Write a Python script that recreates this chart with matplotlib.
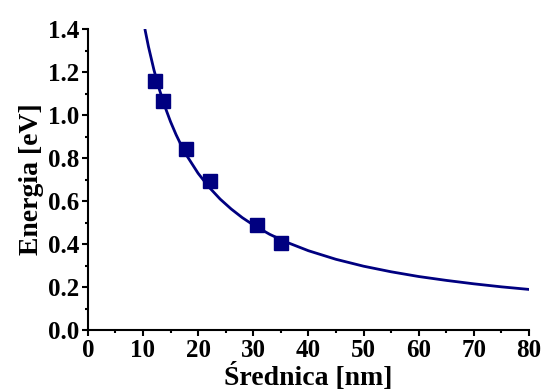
import matplotlib
matplotlib.use("Agg")
import matplotlib.pyplot as plt
from matplotlib.ticker import MultipleLocator, FormatStrFormatter

# measured points
diameter = [12.2, 13.7, 17.75, 22.2, 30.7, 35.1]
energy = [1.158, 1.066, 0.843, 0.692, 0.488, 0.406]

# fitted curve
fit_d = [10.4, 11, 12, 13, 14, 15, 16, 17, 18, 20, 22, 24, 26, 28, 30,
         33, 36, 40, 45, 50, 55, 60, 65, 70, 75, 80]
fit_e = [1.394, 1.318, 1.209, 1.117, 1.038, 0.969, 0.909, 0.856, 0.809,
         0.729, 0.664, 0.609, 0.563, 0.523, 0.489, 0.445, 0.409, 0.369,
         0.329, 0.297, 0.271, 0.249, 0.231, 0.215, 0.201, 0.189]

plt.rcParams["font.family"] = ["Liberation Serif", "DejaVu Serif"]
plt.rcParams["font.weight"] = "bold"

fig = plt.figure(figsize=(5.42, 3.92), dpi=100)
ax = fig.add_axes([0.162, 0.158, 0.814, 0.768])

ax.plot(fit_d, fit_e, color="#000080", linewidth=2.0, zorder=2)
ax.plot(diameter, energy, linestyle="none", marker="s", markersize=9.4,
        color="#000080", zorder=3)

ax.set_xlim(0, 80)
ax.set_ylim(0, 1.4)
ax.xaxis.set_major_locator(MultipleLocator(10))
ax.xaxis.set_minor_locator(MultipleLocator(5))
ax.yaxis.set_major_locator(MultipleLocator(0.2))
ax.yaxis.set_minor_locator(MultipleLocator(0.1))
ax.yaxis.set_major_formatter(FormatStrFormatter("%.1f"))

for side in ["top", "right"]:
    ax.spines[side].set_visible(False)
for side in ["left", "bottom"]:
    ax.spines[side].set_linewidth(1.5)

ax.tick_params(which="major", direction="out", length=4.3, width=1.5,
               labelsize=18, pad=2)
ax.tick_params(which="minor", direction="out", length=2.4, width=1.5)

ax.set_xlabel("Średnica [nm]", fontsize=20, fontweight="bold", labelpad=0.5)
ax.set_ylabel("Energia [eV]", fontsize=20, fontweight="bold", labelpad=3)

fig.savefig("out.png", dpi=100)
